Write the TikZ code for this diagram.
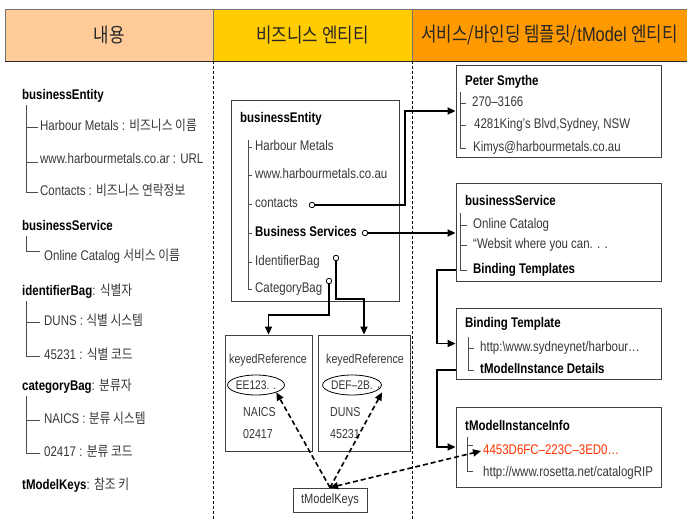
\documentclass[tikz,border=0pt]{standalone}
\usepackage{fontspec}
\setmainfont{Liberation Sans}[FakeStretch=0.82]
\newfontfamily\ko{Noto Sans CJK KR}[FakeStretch=0.84]
\usetikzlibrary{arrows.meta,shapes.geometric,calc}
\definecolor{hpeach}{HTML}{FFCC99}
\definecolor{hyellow}{HTML}{FFCC00}
\definecolor{horange}{HTML}{FF9900}
\definecolor{keyred}{HTML}{FF3300}
\tikzset{
  txt/.style={anchor=west, inner sep=0pt, text height=9.5pt, text depth=2.5pt,
    font=\fontsize{14}{16}\selectfont, text=black!78},
  hd/.style={txt, text=black, font=\fontsize{14}{16}\selectfont\bfseries},
  ctr/.style={txt, anchor=center},
  krtxt/.style={txt, font=\fontsize{13}{15}\selectfont},
  tree/.style={draw=black!70, line width=0.8pt},
  box/.style={draw=black!75, line width=0.9pt, rectangle, inner sep=0pt},
  hcell/.style={draw=black!55, line width=0.6pt, rectangle, inner sep=0pt,
    font=\fontsize{20}{22}\selectfont, text=black!85},
  conn/.style={line width=1.8pt, -{Triangle[length=8pt,width=7pt]}},
  dconn/.style={line width=1.6pt, dash pattern=on 5pt off 3pt,
    -{Triangle[length=8pt,width=7pt]}},
  port/.style={circle, draw, line width=0.8pt, inner sep=0pt, minimum size=5.5pt, fill=white},
  divider/.style={line width=1pt, dash pattern=on 3pt off 2pt},
  oval/.style={ellipse, draw, line width=0.8pt, inner sep=0pt, minimum height=20pt,
    font=\fontsize{12.5}{15}\selectfont, text=black!80}
}
\begin{document}
\begin{tikzpicture}[x=1pt,y=-1pt]
\useasboundingbox (0,0) rectangle (687,519);
\fill[white] (0,0) rectangle (687,519);

% header
\node[hcell, fill=hpeach, minimum width=208pt, minimum height=52pt] (h1) at (109,35) {\ko 내용};
\node[hcell, fill=hyellow, minimum width=199pt, minimum height=52pt] (h2) at (312.5,35) {\ko 비즈니스 엔티티};
\node[hcell, fill=horange, minimum width=275pt, minimum height=52pt] (h3) at (549.5,35) {{\ko 서비스/바인딩 템플릿/}tModel {\ko 엔티티}};
\draw[line width=1.3pt, black!85] (h1.south west) -- (h3.south east);

% dividers
\draw[divider] (h1.south east) -- (h1.south east |- 0,519);
\draw[divider] (h2.south east) -- (h2.south east |- 0,519);

% left column
\node[hd] (lbe) at (22,96) {businessEntity};
\node[txt] (l1) at (40,127) {Harbour Metals : {\ko 비즈니스 이름}};
\node[txt] (l2) at (40,160) {www.harbourmetals.co.ar : URL};
\node[txt] (l3) at (40,192) {Contacts : {\ko 비즈니스 연락정보}};
\draw[tree] (26,105) -- (26,192) -- (38,192);
\draw[tree] (26,127) -- (38,127);
\draw[tree] (26,162) -- (38,162);

\node[hd] (lbs) at (22,227) {businessService};
\node[txt] (l4) at (44,257) {Online Catalog {\ko 서비스 이름}};
\draw[tree] (26,236) -- (26,251) -- (40,251);

\node[hd] (lib) at (22,292) {identifierBag{\mdseries\color{black!78} : {\ko 식별자}}};
\node[txt] (l5) at (44,322) {DUNS : {\ko 식별 시스템}};
\node[txt] (l6) at (44,356) {45231 : {\ko 식별 코드}};
\draw[tree] (26,301) -- (26,356) -- (40,356);
\draw[tree] (26,322) -- (40,322);

\node[hd] (lcb) at (22,387) {categoryBag{\mdseries\color{black!78} : {\ko 분류자}}};
\node[txt] (l7) at (44,420) {NAICS : {\ko 분류 시스템}};
\node[txt] (l8) at (44,453) {02417 : {\ko 분류 코드}};
\draw[tree] (26,396) -- (26,453) -- (40,453);
\draw[tree] (26,420) -- (40,420);

\node[hd] (ltk) at (22,486) {tModelKeys{\mdseries\color{black!78} : {\ko 참조 키}}};

% middle: businessEntity box
\node[box, minimum width=168pt, minimum height=201pt] (be) at (315,201) {};
\node[hd] (beh) at (240,119) {businessEntity};
\node[txt] (m1) at (255,147) {Harbour Metals};
\node[txt] (m2) at (255,175) {www.harbourmetals.co.au};
\node[txt] (m3) at (255,204) {contacts};
\node[hd] (m4) at (255,233) {Business Services};
\node[txt] (m5) at (255,262) {IdentifierBag};
\node[txt] (m6) at (255,289) {CategoryBag};
\draw[tree] (248,140) -- (248,289) -- (252,289);
\foreach \yy in {147,175,204,233,262} \draw[tree] (248,\yy) -- (252,\yy);

\node[port] (c1) at (312,205) {};
\node[port] (c2) at (365,233) {};
\node[port] (c3) at (336,258) {};
\node[port] (c4) at (329,281) {};

% keyedReference boxes
\node[box, minimum width=87pt, minimum height=116pt] (kr1) at (268.5,393) {};
\node[box, minimum width=92pt, minimum height=116pt] (kr2) at (364,393) {};
\node[krtxt, anchor=center] (k1t) at (268,360) {keyedReference};
\node[oval, minimum width=52pt] (e1) at (256,385) {EE123. .};
\node[krtxt] (k1a) at (243,413) {NAICS};
\node[krtxt] (k1b) at (243,435) {02417};
\node[krtxt, anchor=center] (k2t) at (365,360) {keyedReference};
\node[oval, minimum width=46pt] (e2) at (352,385) {DEF–2B.};
\node[krtxt] (e2dot) at (377,385) {.};
\node[krtxt] (k2a) at (330,413) {DUNS};
\node[krtxt] (k2b) at (330,435) {45231};

\node[box, minimum width=74pt, minimum height=24pt, font=\fontsize{13.5}{16}\selectfont, text=black!80] (tmk) at (330,500) {tModelKeys};

% right column boxes
\node[box, minimum width=205pt, minimum height=92pt] (peter) at (558.5,111) {};
\node[hd] (pt) at (465,82) {Peter Smythe};
\node[txt] (p1) at (472,103) {270–3166};
\node[txt] (p2) at (474,125) {4281King's Blvd,Sydney, NSW};
\node[txt] (p3) at (473,148) {Kimys@harbourmetals.co.au};
\draw[tree] (460,92) -- (460,148) -- (466,148);
\draw[tree] (460,103) -- (466,103);
\draw[tree] (460,125) -- (466,125);

\node[box, minimum width=205pt, minimum height=98pt] (bsvc) at (558.5,232) {};
\node[hd] (bst) at (465,202) {businessService};
\node[txt] (s1) at (473,225) {Online Catalog};
\node[txt] (s2) at (473,245) {“Websit where you can. . .};
\node[hd] (s3) at (473,270) {Binding Templates};
\draw[tree] (460,213) -- (460,270) -- (467,270);
\draw[tree] (460,225) -- (467,225);
\draw[tree] (460,245) -- (467,245);

\node[box, minimum width=205pt, minimum height=71pt] (btmpl) at (558.5,343.5) {};
\node[hd] (btt) at (465,324) {Binding Template};
\node[txt] (b1) at (480,348) {http:\textbackslash www.sydneynet/harbour…};
\node[hd] (b2) at (480,370) {tModelInstance Details};
\draw[tree] (468,337) -- (468,370) -- (474,370);
\draw[tree] (468,348) -- (474,348);

\node[box, minimum width=205pt, minimum height=80pt] (tmii) at (558.5,447) {};
\node[hd] (tit) at (465,427) {tModelInstanceInfo};
\node[txt, text=keyred] (red) at (483,451) {4453D6FC–223C–3ED0…};
\node[txt] (t2) at (483,473) {http://www.rosetta.net/catalogRIP};
\draw[tree] (467,437) -- (467,471) -- (473,471);
\draw[tree] (467,445) -- (473,445);

% connectors
\coordinate (jx) at (437,0);
\draw[conn] (c1.east) -- (405,205) |- (peter.west);
\draw[conn] (c2.east) -- (c2 -| bsvc.west);
\draw[conn] (c3.south) -- ++(0,38) -| (kr2.north);
\draw[conn] (c4.south) -- ++(0,31) -| (kr1.north);
\draw[conn] (bsvc.west |- s3) -- (jx |- s3) |- (btmpl.west);
\draw[conn] (btmpl.west |- b2) -- (jx |- b2) |- (tmii.west);

% dashed key references
\draw[dconn] (tmk.north) -- (e1.-20);
\draw[dconn] (tmk.north) -- ($(e2.south east)+(9,0)$);
\draw[dconn, {Triangle[length=8pt,width=7pt]}-{Triangle[length=8pt,width=7pt]}] (tmk.north) -- ($(red.west)+(-2,0)$);
\end{tikzpicture}
\end{document}
